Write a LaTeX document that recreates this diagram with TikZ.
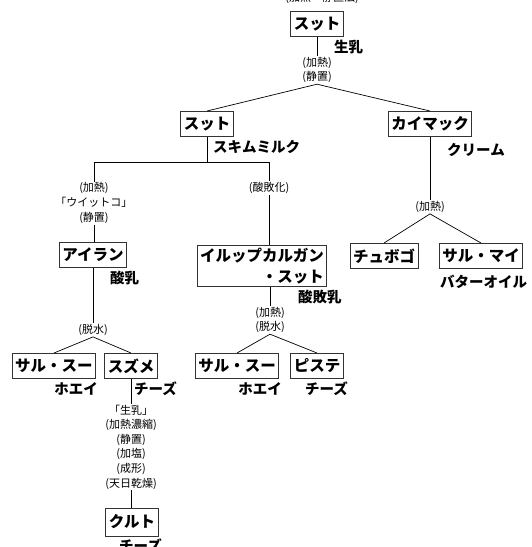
\documentclass[tikz,border=0pt]{standalone}
\usepackage{fontspec}
\newfontfamily\jp{Noto Sans CJK JP}
\tikzset{
	box/.style={draw=black!80, line width=1pt, fill=white, font=\jp\bfseries\fontsize{15.5}{17}\selectfont, inner xsep=3pt, inner ysep=2pt, minimum height=25pt},
	prod/.style={font=\jp\bfseries\fontsize{14.5}{16}\selectfont, inner sep=0pt},
	proc/.style={font=\jp\fontsize{11}{14.6}\selectfont, align=center, inner sep=1pt},
	link/.style={line width=0.7pt}
}
\begin{document}
\begin{tikzpicture}[x=1pt, y=-1pt]
		\useasboundingbox (0,0) rectangle (532,547);
		\node[proc] (cap) at (322,-2) {(加熱・静置法)};
		% milk and its first split
		\node[box] (sut0) at (317,24) {スット};
		\node[prod, anchor=west] (milk) at (334,47) {生乳};
		\node[proc] (p0) at (317,70) {(加熱)\\(静置)};
		\node[box] (sut1) at (207,124) {スット};
		\node[prod, anchor=west] (skim) at (213,147) {スキムミルク};
		\node[box] (kai) at (430,124) {カイマック};
		\node[prod, anchor=west] (cream) at (447,150) {クリーム};
		\draw[link] (sut0.south) -- (p0.north);
		\draw[link] (sut1.north) -- (p0.south) -- (kai.north);
		\coordinate (jl) at (94,162);
		\coordinate (jm) at (269,162);
		\draw[link] (sut1.south) -- (sut1.south |- jl);
		\draw[link] (jl) -- (jm);
		% left branch
		\node[proc] (p1) at (94,203) {(加熱)\\「ウイットコ」\\(静置)};
		\node[box] (airan) at (93,255) {アイラン};
		\node[prod, anchor=west] (sour) at (110,278) {酸乳};
		\node[proc] (p2) at (93,330) {(脱水)};
		\node[box] (sal1) at (54,366) {サル・スー};
		\node[box] (suz) at (131,366) {スズメ};
		\node[prod, anchor=east] (whey1) at (98,389) {ホエイ};
		\node[prod, anchor=west] (ch1) at (134,389) {チーズ};
		\node[proc] (p3) at (131,447) {「生乳」\\(加熱濃縮)\\(静置)\\(加塩)\\(成形)\\(天日乾燥)};
		\node[box, minimum height=28pt] (kurt) at (132,522) {クルト};
		\node[prod, anchor=west] (ch2) at (119,546) {チーズ};
		\draw[link] (jl) -- (p1.north);
		\draw[link] (p1.south) -- (p1.south |- airan.north);
		\draw[link] (airan.south -| p2) -- (p2.north);
		\draw[link] (sal1.north) -- (p2.south) -- (suz.north);
		\draw[link] (suz.south) -- (p3.north);
		\draw[link] (p3.south) -- (p3.south |- kurt.north);
		% middle branch
		\node[proc] (p4) at (269,188) {(酸敗化)};
		\node[box, align=right, font=\jp\bfseries\fontsize{15.5}{21}\selectfont] (irup) at (262,266) {イルップカルガン\\・スット};
		\node[prod, anchor=west] (rancid) at (298,297) {酸敗乳};
		\node[proc] (p5) at (270,320) {(加熱)\\(脱水)};
		\node[box] (sal2) at (237,366) {サル・スー};
		\node[box] (piste) at (317,366) {ピステ};
		\node[prod, anchor=east] (whey2) at (282,389) {ホエイ};
		\node[prod, anchor=west] (ch3) at (305,389) {チーズ};
		\draw[link] (jm) -- (p4.north);
		\draw[link] (p4.south) -- (p4.south |- irup.north);
		\draw[link] (irup.south -| p5) -- (p5.north);
		\draw[link] (sal2.north) -- (p5.south) -- (piste.north);
		% right branch
		\node[proc] (p6) at (430,207) {(加熱)};
		\node[box] (chubo) at (384,256) {チュボゴ};
		\node[box] (salmai) at (481,256) {サル・マイ};
		\node[prod, anchor=west] (butter) at (440,282) {バターオイル};
		\draw[link] (kai.south) -- (p6.north);
		\draw[link] (chubo.north) -- (p6.south) -- (salmai.north);
	\end{tikzpicture}
\end{document}
